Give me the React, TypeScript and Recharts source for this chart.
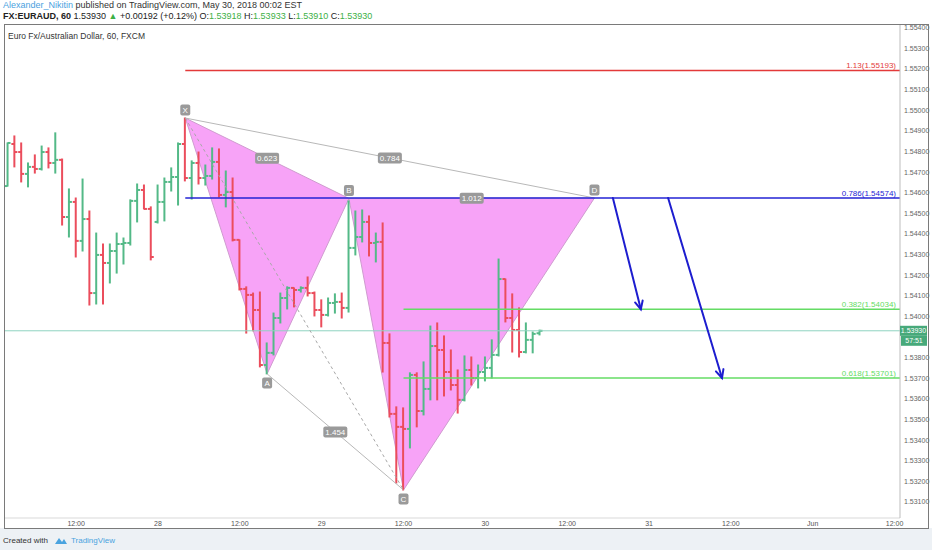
import React from "react";
import {
  ComposedChart,
  Bar,
  XAxis,
  YAxis,
  ReferenceLine,
  ReferenceArea,
  ReferenceDot,
} from "recharts";

// hours counted from May 28 00:00, one bar per hour
const FIRST_HOUR = -22;

const opens = [
  1.54632, 1.54836, 1.54797, 1.54691, 1.54725, 1.54715, 1.54797, 1.54744, 1.54759, 1.54482,
  1.54555, 1.54366, 1.54472, 1.54113, 1.54298, 1.54259, 1.54317, 1.54351, 1.54356, 1.5456,
  1.54613, 1.54521, 1.54458, 1.54555, 1.54652, 1.54676, 1.54836, 1.54671, 1.54744, 1.54671,
  1.54681, 1.54749, 1.54589, 1.54603, 1.54371, 1.54133, 1.54104, 1.54031, 1.53764, 1.53823,
  1.53992, 1.54089, 1.54138, 1.54128, 1.54138, 1.54113, 1.54031, 1.54007, 1.54065, 1.5407,
  1.54041, 1.54332, 1.54385, 1.54458, 1.54356, 1.54361, 1.53871, 1.53527, 1.53464, 1.53454,
  1.53716, 1.53541, 1.53648, 1.53856, 1.53837, 1.5373, 1.53667, 1.53595, 1.5374, 1.53701,
  1.5373, 1.5375, 1.53813, 1.54181, 1.53992, 1.53934, 1.53827, 1.53886, 1.53918,
];
const highs = [
  1.54841, 1.54875, 1.54841, 1.54744, 1.54783, 1.54826, 1.54817, 1.5489, 1.54763, 1.54618,
  1.54574, 1.54666, 1.54511, 1.54404, 1.54351, 1.54351, 1.54404, 1.5438, 1.54565, 1.54642,
  1.54637, 1.54531, 1.54637, 1.54671, 1.5472, 1.54841, 1.54962, 1.54754, 1.54797, 1.54734,
  1.54817, 1.54812, 1.54705, 1.54671, 1.54371, 1.54143, 1.54113, 1.54118, 1.53871, 1.54016,
  1.54113, 1.54143, 1.54138, 1.54143, 1.54191, 1.54118, 1.5408, 1.54089, 1.54109, 1.54113,
  1.5456, 1.54511, 1.54516, 1.54487, 1.54404, 1.54453, 1.53915, 1.53561, 1.53556, 1.53726,
  1.53726, 1.53779, 1.53953, 1.53968, 1.53905, 1.53837, 1.5374, 1.53808, 1.53803, 1.53764,
  1.53803, 1.53886, 1.54278, 1.54181, 1.54109, 1.54041, 1.53968, 1.53924, 1.53933,
];
const lows = [
  1.54632, 1.54725, 1.54652, 1.54628, 1.54695, 1.5471, 1.5472, 1.54695, 1.54443, 1.54385,
  1.54288, 1.54317, 1.54055, 1.5406, 1.5406, 1.54162, 1.5421, 1.54254, 1.54346, 1.54458,
  1.54521, 1.54274, 1.54453, 1.54463, 1.54608, 1.5454, 1.54657, 1.54569, 1.54642, 1.54637,
  1.54666, 1.54579, 1.54531, 1.54366, 1.54128, 1.53919, 1.5393, 1.53755, 1.53721, 1.53813,
  1.53968, 1.54036, 1.54046, 1.54118, 1.54099, 1.54002, 1.53949, 1.54002, 1.54016, 1.53992,
  1.54021, 1.54298, 1.54361, 1.54293, 1.54264, 1.5373, 1.53512, 1.53192, 1.53158, 1.53362,
  1.53464, 1.53522, 1.53595, 1.53595, 1.53614, 1.53643, 1.53531, 1.5359, 1.53667, 1.53653,
  1.53687, 1.53701, 1.53808, 1.53973, 1.53827, 1.53803, 1.53823, 1.53823, 1.5391,
];
const closes = [
  1.54841, 1.54797, 1.54691, 1.54725, 1.54715, 1.54797, 1.54744, 1.54759, 1.54482, 1.54555,
  1.54366, 1.54472, 1.54113, 1.54298, 1.54259, 1.54317, 1.54351, 1.54356, 1.5456, 1.54613,
  1.54521, 1.54288, 1.54555, 1.54652, 1.54676, 1.54836, 1.54671, 1.54744, 1.54671, 1.54681,
  1.54749, 1.54589, 1.54603, 1.54371, 1.54133, 1.54104, 1.54031, 1.53764, 1.53823, 1.53992,
  1.54089, 1.54138, 1.54128, 1.54138, 1.54113, 1.54031, 1.54007, 1.54065, 1.5407, 1.54041,
  1.54332, 1.54385, 1.54458, 1.54356, 1.54361, 1.53871, 1.53527, 1.53464, 1.53454, 1.53716,
  1.53541, 1.53648, 1.53856, 1.53837, 1.5373, 1.53667, 1.53595, 1.5374, 1.53701, 1.5373,
  1.5375, 1.53813, 1.54181, 1.53992, 1.53934, 1.53827, 1.53886, 1.53915, 1.5393,
];

const timeTicks = [-12, 0, 12, 24, 36, 48, 60, 72, 84, 96, 108];
const timeLabels = ["12:00", "28", "12:00", "29", "12:00", "30", "12:00", "31", "12:00", "Jun", "12:00"];

const priceTicks = [
  1.531, 1.532, 1.533, 1.534, 1.535, 1.536, 1.537, 1.538, 1.54, 1.541, 1.542, 1.543,
  1.544, 1.545, 1.546, 1.547, 1.548, 1.549, 1.55, 1.551, 1.552, 1.553, 1.554,
];

// XABCD pattern points
const pattern = [
  { name: "X", t: 4, p: 1.54962, above: true },
  { name: "A", t: 16, p: 1.53721, above: false },
  { name: "B", t: 28, p: 1.54572, above: true },
  { name: "C", t: 36, p: 1.53158, above: false },
  { name: "D", t: 64, p: 1.54574, above: true },
];
const ratios = [
  { text: "0.623", from: "X", to: "B" },
  { text: "0.784", from: "X", to: "D" },
  { text: "1.012", from: "B", to: "D" },
  { text: "1.454", from: "A", to: "C" },
];

const levels = [
  { fib: "1.13", price: 1.55193, start: 4, color: "#e33a3a" },
  { fib: "0.786", price: 1.54574, start: 4, color: "#2323d4" },
  { fib: "0.382", price: 1.54034, start: 36, color: "#64dc64" },
  { fib: "0.618", price: 1.53701, start: 36, color: "#64dc64" },
];

const arrows = [
  { t1: 66.7, p1: 1.54574, t2: 70.8, p2: 1.54034 },
  { t1: 74.8, p1: 1.54574, t2: 82.7, p2: 1.53701 },
];

const lastPrice = 1.5393;
const countdown = "57:51";

const X_MIN = -22.58;
const X_MAX = 108.8;
const Y_MIN = 1.53022;
const Y_MAX = 1.55418;

const GREEN = "#53b987";
const RED = "#eb4d5c";
const FONT = "'Liberation Sans', Arial, sans-serif";

const rows = opens.map((open, i) => ({
  t: FIRST_HOUR + i,
  open,
  high: highs[i],
  low: lows[i],
  close: closes[i],
}));

const pt = (name: string) => pattern.find((q) => q.name === name)!;

function OhlcBar(props: any) {
  const { x, y, width, height, payload } = props;
  if (!payload || payload.open == null) return null;
  const top = Math.min(y, y + height);
  const h = Math.abs(height);
  const range = payload.high - payload.low;
  const k = range > 0 ? h / range : 0;
  const yOpen = top + (payload.high - payload.open) * k;
  const yClose = top + (payload.high - payload.close) * k;
  const cx = x + width / 2;
  const color = payload.close >= payload.open ? GREEN : RED;
  return (
    <g stroke={color} strokeWidth={2}>
      <line x1={cx} x2={cx} y1={top - 0.5} y2={top + h + 0.5} />
      <line x1={cx - 3} x2={cx} y1={yOpen} y2={yOpen} />
      <line x1={cx} x2={cx + 3} y1={yClose} y2={yClose} />
    </g>
  );
}

function triangle(names: string[]) {
  const pts = names.map(pt);
  const t0 = Math.min(...pts.map((q) => q.t));
  const t1 = Math.max(...pts.map((q) => q.t));
  const p0 = Math.min(...pts.map((q) => q.p));
  const p1 = Math.max(...pts.map((q) => q.p));
  const shape = (props: any) => {
    const { x, y, width, height } = props;
    const d =
      pts
        .map(
          (q, i) =>
            `${i ? "L" : "M"}${x + ((q.t - t0) / (t1 - t0)) * width},${
              y + ((p1 - q.p) / (p1 - p0)) * height
            }`,
        )
        .join(" ") + " Z";
    return <path d={d} fill="#f79ef7" fillOpacity={0.95} stroke="#cf9bcf" strokeWidth={1} />;
  };
  return { t0, t1, p0, p1, shape };
}

const triangles = [triangle(["X", "A", "B"]), triangle(["B", "C", "D"])];

const patternEdges = [
  { from: "X", to: "D", color: "#b8b8b8", dash: undefined },
  { from: "A", to: "C", color: "#b8b8b8", dash: undefined },
  { from: "X", to: "C", color: "#a8a8a8", dash: "3 3" },
];

function ArrowShape(props: any) {
  const { x1, y1, x2, y2 } = props;
  const ang = Math.atan2(y2 - y1, x2 - x1);
  const len = 9;
  const a1 = ang + Math.PI - 0.45;
  const a2 = ang + Math.PI + 0.45;
  return (
    <g stroke="#1d1dcf" strokeWidth={2} fill="none" strokeLinecap="round">
      <line x1={x1} y1={y1} x2={x2} y2={y2} />
      <path
        d={`M${x2 + len * Math.cos(a1)},${y2 + len * Math.sin(a1)} L${x2},${y2} L${
          x2 + len * Math.cos(a2)
        },${y2 + len * Math.sin(a2)}`}
      />
    </g>
  );
}

function boxLabel(text: string, w: number, dy: number) {
  return (props: any) => {
    const { cx, cy } = props;
    if (cx == null || cy == null) return null;
    return (
      <g>
        <rect x={cx - w / 2} y={cy + dy - 5.5} width={w} height={11} rx={2} fill="#9a9a9a" />
        <text
          x={cx}
          y={cy + dy + 3}
          textAnchor="middle"
          fontSize={8}
          fontFamily={FONT}
          fill="#ffffff"
        >
          {text}
        </text>
      </g>
    );
  };
}

function levelLabel(text: string, color: string) {
  return (props: any) => {
    const { cx, cy } = props;
    if (cx == null || cy == null) return null;
    return (
      <text x={cx - 4} y={cy - 2.5} textAnchor="end" fontSize={8} fontFamily={FONT} fill={color}>
        {text}
      </text>
    );
  };
}

function PriceTag(props: any) {
  const { cx, cy } = props;
  if (cx == null || cy == null) return null;
  return (
    <g fontFamily={FONT} fontSize={7} fill="#ffffff">
      <rect x={cx} y={cy - 5} width={27} height={10} fill="#47a97a" />
      <rect x={cx + 1} y={cy + 5} width={26} height={10} fill="#47a97a" />
      <text x={cx + 13.5} y={cy + 2.5} textAnchor="middle" fill="#ffffff">
        {lastPrice.toFixed(5)}
      </text>
      <text x={cx + 14} y={cy + 12.5} textAnchor="middle" fill="#ffffff">
        {countdown}
      </text>
    </g>
  );
}

export default function App() {
  const g = { color: "#3db046" };
  return (
    <div
      style={{
        position: "absolute",
        left: 0,
        top: 0,
        width: 932,
        height: 550,
        background: "#ffffff",
        fontFamily: FONT,
        overflow: "hidden",
      }}
    >
      <div style={{ position: "absolute", left: 0, top: 528, width: 932, height: 22, background: "#edf1f5" }} />
      <div style={{ position: "absolute", left: 3, top: 0, fontSize: 9, color: "#333", whiteSpace: "nowrap" }}>
        <span style={{ color: "#4a9fe0" }}>Alexander_Nikitin</span> published on TradingView.com, May 30, 2018 00:02 EST
      </div>
      <div style={{ position: "absolute", left: 3, top: 10.5, fontSize: 9, color: "#222", whiteSpace: "nowrap" }}>
        <b>FX:EURAUD, 60</b> 1.53930 <span style={g}>▲</span> +0.00192 (+0.12%) O:<span style={g}>1.53918</span>{" "}
        H:<span style={g}>1.53933</span> L:<span style={g}>1.53910</span> C:<span style={g}>1.53930</span>
      </div>

      <div style={{ position: "absolute", left: 0, top: 0 }}>
        <ComposedChart
          width={932}
          height={550}
          data={rows}
          margin={{ top: 24, right: 4, bottom: 22, left: 4 }}
        >
          <XAxis
            dataKey="t"
            type="number"
            domain={[X_MIN, X_MAX]}
            allowDataOverflow
            ticks={timeTicks}
            interval={0}
            tickFormatter={(v) => timeLabels[timeTicks.indexOf(v)] ?? ""}
            height={10}
            tickSize={0}
            tickMargin={3}
            axisLine={{ stroke: "#d9d9d9" }}
            tick={{ fontSize: 7, fill: "#555", fontFamily: FONT }}
          />
          <YAxis
            orientation="right"
            type="number"
            domain={[Y_MIN, Y_MAX]}
            allowDataOverflow
            ticks={priceTicks}
            interval={0}
            width={28}
            tickSize={0}
            tickMargin={4}
            axisLine={{ stroke: "#bdbdbd" }}
            tickFormatter={(v) => Number(v).toFixed(5)}
            tick={{ fontSize: 7, fill: "#666", fontFamily: FONT }}
          />

          {triangles.map((tr, i) => (
            <ReferenceArea
              key={`tri${i}`}
              x1={tr.t0}
              x2={tr.t1}
              y1={tr.p0}
              y2={tr.p1}
              ifOverflow="visible"
              shape={tr.shape}
            />
          ))}

          <ReferenceLine y={lastPrice} stroke="#8fd3c0" strokeWidth={1} ifOverflow="visible" />

          {patternEdges.map((e, i) => (
            <ReferenceLine
              key={`edge${i}`}
              segment={[
                { x: pt(e.from).t, y: pt(e.from).p },
                { x: pt(e.to).t, y: pt(e.to).p },
              ]}
              stroke={e.color}
              strokeWidth={1}
              strokeDasharray={e.dash}
              ifOverflow="visible"
            />
          ))}

          <Bar
            dataKey={(d: any) => [d.low, d.high]}
            barSize={6}
            shape={OhlcBar}
            isAnimationActive={false}
          />

          {levels.map((l, i) => (
            <ReferenceLine
              key={`lvl${i}`}
              segment={[
                { x: l.start, y: l.price },
                { x: X_MAX, y: l.price },
              ]}
              stroke={l.color}
              strokeWidth={1.5}
              ifOverflow="visible"
            />
          ))}
          {levels.map((l, i) => (
            <ReferenceDot
              key={`lvlLabel${i}`}
              x={X_MAX}
              y={l.price}
              ifOverflow="visible"
              shape={levelLabel(`${l.fib}(${l.price.toFixed(5)})`, l.color)}
            />
          ))}

          {arrows.map((a, i) => (
            <ReferenceLine
              key={`arrow${i}`}
              segment={[
                { x: a.t1, y: a.p1 },
                { x: a.t2, y: a.p2 },
              ]}
              ifOverflow="visible"
              shape={ArrowShape}
            />
          ))}

          {ratios.map((r, i) => (
            <ReferenceDot
              key={`ratio${i}`}
              x={(pt(r.from).t + pt(r.to).t) / 2}
              y={(pt(r.from).p + pt(r.to).p) / 2}
              ifOverflow="visible"
              shape={boxLabel(r.text, 24, 0)}
            />
          ))}
          {pattern.map((q) => (
            <ReferenceDot
              key={q.name}
              x={q.t}
              y={q.p}
              ifOverflow="visible"
              shape={boxLabel(q.name, 10, q.above ? -8 : 9)}
            />
          ))}

          <ReferenceDot x={X_MAX} y={lastPrice} ifOverflow="visible" shape={PriceTag} />
        </ComposedChart>
      </div>

      <div
        style={{
          position: "absolute",
          left: 4,
          top: 24,
          width: 923,
          height: 503,
          border: "1px solid #7a7a7a",
          pointerEvents: "none",
        }}
      />
      <div style={{ position: "absolute", left: 8, top: 31, fontSize: 8.5, color: "#333", whiteSpace: "nowrap" }}>
        Euro Fx/Australian Dollar, 60, FXCM
      </div>
      <div
        style={{
          position: "absolute",
          left: 3,
          top: 535,
          fontSize: 8,
          color: "#333",
          whiteSpace: "nowrap",
          display: "flex",
          alignItems: "center",
        }}
      >
        Created with
        <svg width={14} height={10} style={{ margin: "0 3px 0 6px" }}>
          <path d="M1 9 L5 3 L8 7 L10 4 L13 9 Z" fill="#4aa3df" />
        </svg>
        <span style={{ color: "#4aa3df" }}>TradingView</span>
      </div>
    </div>
  );
}
